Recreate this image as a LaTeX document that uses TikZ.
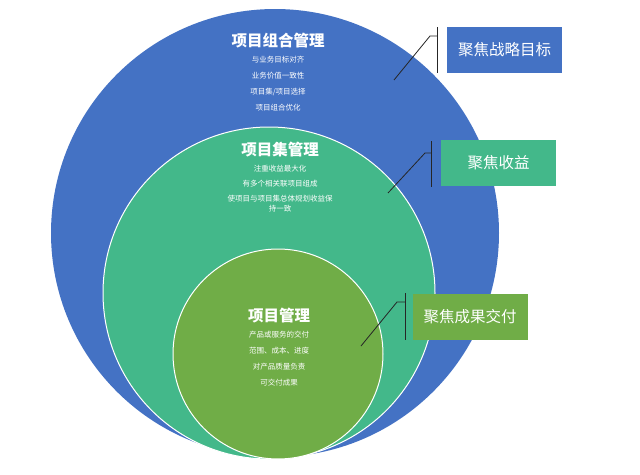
\documentclass[tikz,border=0pt]{standalone}
\usepackage{fontspec}
\setmainfont{Noto Sans CJK SC}
\usetikzlibrary{positioning}
\definecolor{pfblue}{HTML}{4472C4}
\definecolor{pggreen}{HTML}{43B88A}
\definecolor{pjolive}{HTML}{70AD47}
\tikzset{%
heading/.style={text=white,font=\bfseries\fontsize{15.5}{17}\selectfont},
items/.style={text=white,font=\fontsize{7.5}{16}\selectfont,align=center},
focusbox/.style={text=white,font=\fontsize{15.5}{17}\selectfont,minimum width=115pt,minimum height=46pt,inner sep=0pt},
callout/.style={draw=black!85,line width=0.8pt}
}
\begin{document}
\begin{tikzpicture}[x=1pt,y=-1pt]
  \useasboundingbox (0,0) rectangle (640,474);

  \fill[pfblue] (275,233) circle (224);
  \filldraw[pggreen,draw=white,line width=1pt] (269,293) circle (166);
  \filldraw[pjolive,draw=white,line width=1pt] (278,354) circle (105);

  \node[heading] (pfhead) at (278,41) {项目组合管理};
  \node[items,below=1pt of pfhead] (pfitems) {与业务目标对齐\\业务价值一致性\\项目集/项目选择\\项目组合优化};

  \node[heading] (pghead) at (280,150) {项目集管理};
  \node[items,below=1pt of pghead,font=\fontsize{7.5}{10}\selectfont] (pgitems)
    {注重收益最大化\\[5pt]有多个相关联项目组成\\[5pt]使项目与项目集总体规划收益保\\持一致};

  \node[heading] (pjhead) at (279,316) {项目管理};
  \node[items,below=1pt of pjhead] (pjitems) {产品或服务的交付\\范围、成本、进度\\对产品质量负责\\可交付成果};

  \node[focusbox,fill=pfblue] (pfbox) at (504.5,50) {聚焦战略目标};
  \node[focusbox,fill=pggreen] (pgbox) at (498.5,163) {聚焦收益};
  \node[focusbox,fill=pjolive] (pjbox) at (470,316.5) {聚焦成果交付};

  % callout brackets
  \coordinate (pfa) at (394,80);  \coordinate (pfb) at (430,36);
  \draw[callout] (437,27) -- (437,73);
  \draw[callout] (pfa) -- (pfb) -- (437,36);
  \coordinate (pga) at (388,193); \coordinate (pgb) at (425,153);
  \draw[callout] (431,141) -- (431,187);
  \draw[callout] (pga) -- (pgb) -- (431,153);
  \coordinate (pja) at (361,346); \coordinate (pjb) at (397,302);
  \draw[callout] (405,293) -- (405,340);
  \draw[callout] (pja) -- (pjb) -- (405,302);
\end{tikzpicture}
\end{document}
